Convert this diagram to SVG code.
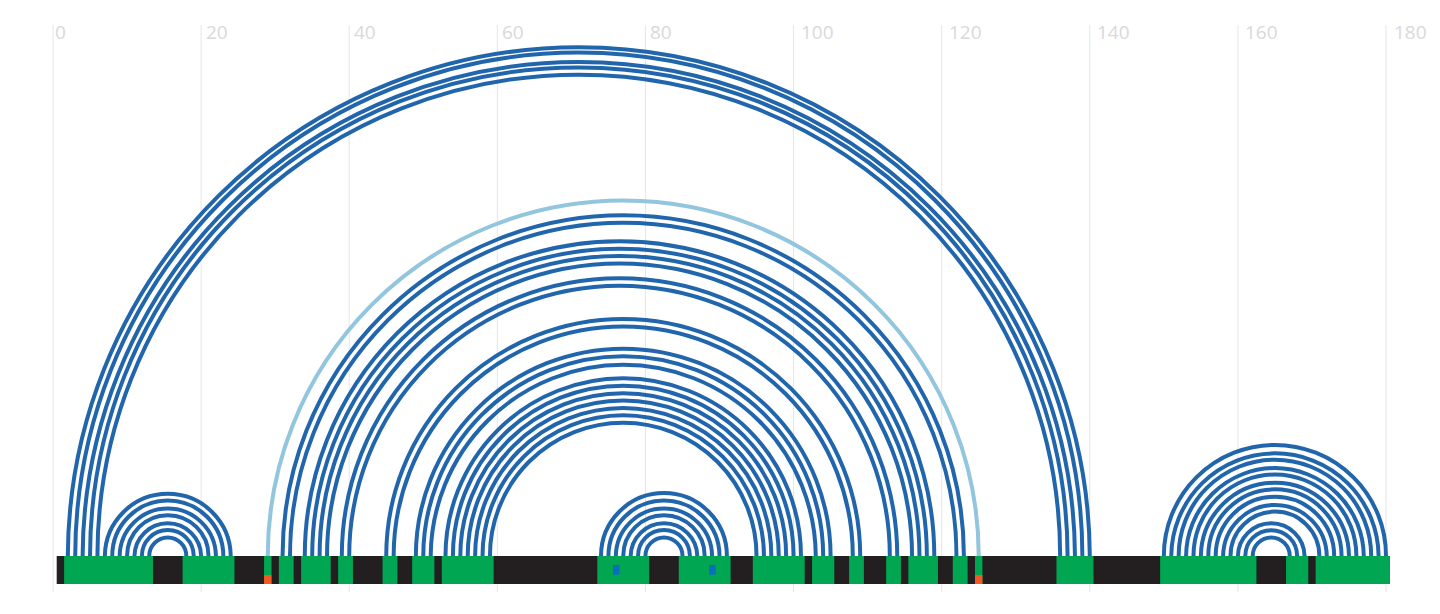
<svg xmlns="http://www.w3.org/2000/svg" width="1440" height="614" viewBox="0 0 1440 614">
<style>
.grid{stroke:#e6e6e6;stroke-width:1}
.lbl{font-family:"Open Sans","Liberation Sans",sans-serif;font-size:19px;fill:#d9d9d9}
.arc{fill:none;stroke:#2166ac;stroke-width:4}
.arcl{fill:none;stroke:#92c5de;stroke-width:4}
.paired{fill:#00a651}
.orange{fill:#f15a22}
.mark{fill:#0c6dbf}
</style>
<rect width="1440" height="614" fill="#ffffff"/>
<g id="axis">
<line class="grid" x1="53" y1="25" x2="53" y2="592"/>
<line class="grid" x1="201.11" y1="25" x2="201.11" y2="592"/>
<line class="grid" x1="349.22" y1="25" x2="349.22" y2="592"/>
<line class="grid" x1="497.34" y1="25" x2="497.34" y2="592"/>
<line class="grid" x1="645.45" y1="25" x2="645.45" y2="592"/>
<line class="grid" x1="793.56" y1="25" x2="793.56" y2="592"/>
<line class="grid" x1="941.67" y1="25" x2="941.67" y2="592"/>
<line class="grid" x1="1089.78" y1="25" x2="1089.78" y2="592"/>
<line class="grid" x1="1237.9" y1="25" x2="1237.9" y2="592"/>
<line class="grid" x1="1386.01" y1="25" x2="1386.01" y2="592"/>
<text class="lbl" x="55" y="38.5">0</text>
<text class="lbl" x="206" y="38.5">20</text>
<text class="lbl" x="354" y="38.5">40</text>
<text class="lbl" x="502" y="38.5">60</text>
<text class="lbl" x="650" y="38.5">80</text>
<text class="lbl" x="801" y="38.5">100</text>
<text class="lbl" x="949" y="38.5">120</text>
<text class="lbl" x="1097" y="38.5">140</text>
<text class="lbl" x="1245" y="38.5">160</text>
<text class="lbl" x="1394" y="38.5">180</text>
</g>
<g id="connectors">
<path class="arc" d="M67.81 556A510.99 510.99 0 0 1 1089.78 556"/>
<path class="arc" d="M75.22 556A503.58 503.58 0 0 1 1082.38 556"/>
<path class="arc" d="M82.62 556A496.18 496.18 0 0 1 1074.97 556"/>
<path class="arc" d="M90.03 556A488.77 488.77 0 0 1 1067.57 556"/>
<path class="arc" d="M97.43 556A481.36 481.36 0 0 1 1060.16 556"/>
<path class="arc" d="M104.84 556A62.95 62.95 0 0 1 230.73 556"/>
<path class="arc" d="M112.24 556A55.54 55.54 0 0 1 223.33 556"/>
<path class="arc" d="M119.65 556A48.14 48.14 0 0 1 215.92 556"/>
<path class="arc" d="M127.06 556A40.73 40.73 0 0 1 208.52 556"/>
<path class="arc" d="M134.46 556A33.33 33.33 0 0 1 201.11 556"/>
<path class="arc" d="M141.87 556A25.92 25.92 0 0 1 193.71 556"/>
<path class="arc" d="M149.27 556A18.51 18.51 0 0 1 186.3 556"/>
<path class="arcl" d="M267.76 556A355.47 355.47 0 0 1 978.7 556"/>
<path class="arc" d="M282.57 556A340.66 340.66 0 0 1 963.89 556"/>
<path class="arc" d="M289.98 556A333.25 333.25 0 0 1 956.48 556"/>
<path class="arc" d="M304.79 556A314.74 314.74 0 0 1 934.27 556"/>
<path class="arc" d="M312.2 556A307.33 307.33 0 0 1 926.86 556"/>
<path class="arc" d="M319.6 556A299.93 299.93 0 0 1 919.46 556"/>
<path class="arc" d="M327.01 556A292.52 292.52 0 0 1 912.05 556"/>
<path class="arc" d="M341.82 556A277.71 277.71 0 0 1 897.24 556"/>
<path class="arc" d="M349.22 556A270.3 270.3 0 0 1 889.83 556"/>
<path class="arc" d="M386.25 556A236.98 236.98 0 0 1 860.21 556"/>
<path class="arc" d="M393.66 556A229.57 229.57 0 0 1 852.8 556"/>
<path class="arc" d="M415.87 556A207.36 207.36 0 0 1 830.59 556"/>
<path class="arc" d="M423.28 556A199.95 199.95 0 0 1 823.18 556"/>
<path class="arc" d="M430.69 556A192.55 192.55 0 0 1 815.78 556"/>
<path class="arc" d="M445.5 556A177.73 177.73 0 0 1 800.97 556"/>
<path class="arc" d="M452.9 556A170.33 170.33 0 0 1 793.56 556"/>
<path class="arc" d="M460.31 556A162.92 162.92 0 0 1 786.15 556"/>
<path class="arc" d="M467.71 556A155.52 155.52 0 0 1 778.75 556"/>
<path class="arc" d="M475.12 556A148.11 148.11 0 0 1 771.34 556"/>
<path class="arc" d="M482.52 556A140.71 140.71 0 0 1 763.94 556"/>
<path class="arc" d="M489.93 556A133.3 133.3 0 0 1 756.53 556"/>
<path class="arc" d="M601.01 556A62.95 62.95 0 0 1 726.91 556"/>
<path class="arc" d="M608.42 556A55.54 55.54 0 0 1 719.5 556"/>
<path class="arc" d="M615.83 556A48.14 48.14 0 0 1 712.1 556"/>
<path class="arc" d="M623.23 556A40.73 40.73 0 0 1 704.69 556"/>
<path class="arc" d="M630.64 556A33.33 33.33 0 0 1 697.29 556"/>
<path class="arc" d="M638.04 556A25.92 25.92 0 0 1 689.88 556"/>
<path class="arc" d="M645.45 556A18.51 18.51 0 0 1 682.48 556"/>
<path class="arc" d="M1163.84 556A111.08 111.08 0 0 1 1386.01 556"/>
<path class="arc" d="M1171.25 556A103.68 103.68 0 0 1 1378.6 556"/>
<path class="arc" d="M1178.65 556A96.27 96.27 0 0 1 1371.2 556"/>
<path class="arc" d="M1186.06 556A88.87 88.87 0 0 1 1363.79 556"/>
<path class="arc" d="M1193.46 556A81.46 81.46 0 0 1 1356.39 556"/>
<path class="arc" d="M1200.87 556A74.06 74.06 0 0 1 1348.98 556"/>
<path class="arc" d="M1208.27 556A66.65 66.65 0 0 1 1341.57 556"/>
<path class="arc" d="M1215.68 556A59.24 59.24 0 0 1 1334.17 556"/>
<path class="arc" d="M1223.09 556A51.84 51.84 0 0 1 1326.76 556"/>
<path class="arc" d="M1230.49 556A44.43 44.43 0 0 1 1319.36 556"/>
<path class="arc" d="M1237.9 556A33.33 33.33 0 0 1 1304.55 556"/>
<path class="arc" d="M1245.3 556A25.92 25.92 0 0 1 1297.14 556"/>
<path class="arc" d="M1252.71 556A18.51 18.51 0 0 1 1289.74 556"/>
</g>
<g id="sequence">
<rect x="56.7" y="556" width="1333.01" height="28" fill="#231f20"/>
<rect class="paired" x="64.11" y="556" width="88.87" height="28"/>
<rect class="paired" x="182.6" y="556" width="51.84" height="28"/>
<rect class="paired" x="264.06" y="556" width="7.41" height="28"/>
<rect class="paired" x="278.87" y="556" width="14.81" height="28"/>
<rect class="paired" x="301.09" y="556" width="29.62" height="28"/>
<rect class="paired" x="338.12" y="556" width="14.81" height="28"/>
<rect class="paired" x="382.55" y="556" width="14.81" height="28"/>
<rect class="paired" x="412.17" y="556" width="22.22" height="28"/>
<rect class="paired" x="441.79" y="556" width="51.84" height="28"/>
<rect class="paired" x="597.31" y="556" width="51.84" height="28"/>
<rect class="paired" x="678.77" y="556" width="51.84" height="28"/>
<rect class="paired" x="752.83" y="556" width="51.84" height="28"/>
<rect class="paired" x="812.07" y="556" width="22.22" height="28"/>
<rect class="paired" x="849.1" y="556" width="14.81" height="28"/>
<rect class="paired" x="886.13" y="556" width="14.81" height="28"/>
<rect class="paired" x="908.35" y="556" width="29.62" height="28"/>
<rect class="paired" x="952.78" y="556" width="14.81" height="28"/>
<rect class="paired" x="975" y="556" width="7.41" height="28"/>
<rect class="paired" x="1056.46" y="556" width="37.03" height="28"/>
<rect class="paired" x="1160.14" y="556" width="96.27" height="28"/>
<rect class="paired" x="1286.03" y="556" width="22.22" height="28"/>
<rect class="paired" x="1315.65" y="556" width="74.06" height="28"/>
<rect class="orange" x="264.06" y="575" width="7.41" height="9"/>
<rect class="orange" x="975" y="575" width="7.41" height="9"/>
<rect class="mark" x="613" y="565" width="6.6" height="9.7"/>
<rect class="mark" x="709.1" y="565" width="6.6" height="9.7"/>
</g>
</svg>
